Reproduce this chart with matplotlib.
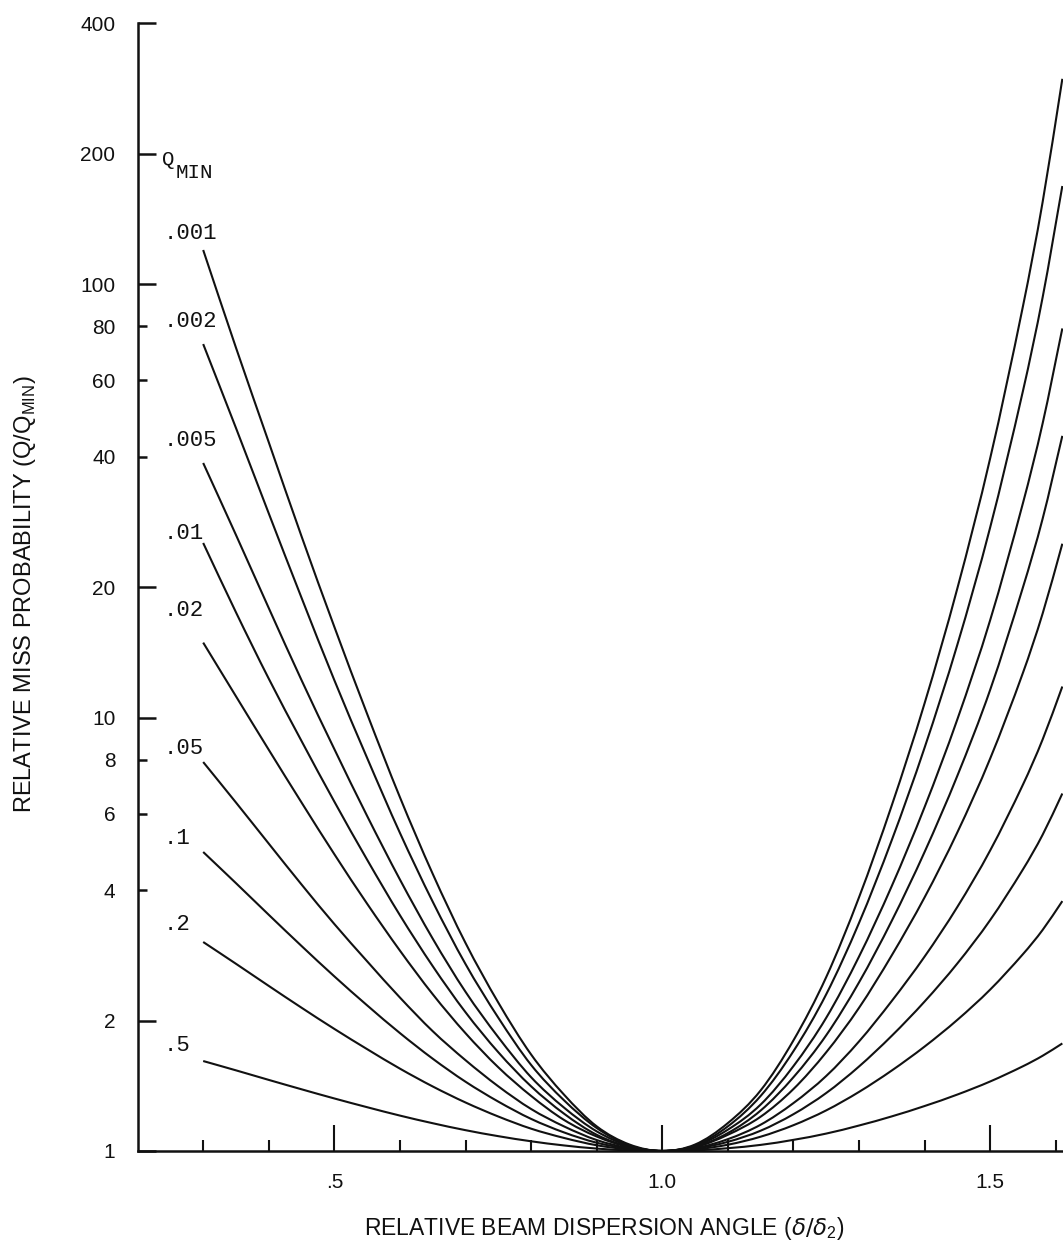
import matplotlib
matplotlib.use("Agg")
import numpy as np
import matplotlib.pyplot as plt
from matplotlib.path import Path
from matplotlib.patches import PathPatch
from matplotlib.ticker import FixedLocator, FixedFormatter, NullFormatter

# ---------------- data ----------------
delta = [0.30, 0.35, 0.40, 0.45, 0.50, 0.55, 0.60, 0.65, 0.70, 0.75,
         0.80, 0.85, 0.90, 0.95, 1.00, 1.05, 1.10, 1.15, 1.20, 1.25,
         1.30, 1.35, 1.40, 1.45, 1.50, 1.55, 1.58, 1.61]

q_001 = [120, 71.4, 43.2, 26.2, 16.2, 10.2, 6.55, 4.36, 3.02, 2.20, 1.67, 1.35, 1.14, 1.035,
         1.0, 1.035, 1.16, 1.38, 1.80, 2.52, 3.85, 6.28, 10.8, 19.9, 39.7, 89.1, 155, 298]
q_002 = [72.8, 46.6, 29.6, 18.9, 12.2, 8.07, 5.42, 3.76, 2.70, 2.03, 1.58, 1.31, 1.13, 1.03,
         1.0, 1.03, 1.14, 1.34, 1.70, 2.30, 3.36, 5.22, 8.53, 14.75, 27.5, 56.8, 93.4, 168.6]
q_005 = [38.7, 26.4, 17.9, 12.2, 8.46, 5.93, 4.23, 3.09, 2.33, 1.83, 1.48, 1.26, 1.11, 1.027,
         1.0, 1.027, 1.12, 1.28, 1.57, 2.03, 2.81, 4.09, 6.22, 9.92, 16.8, 31.3, 47.8, 79.1]
q_01 = [25.3, 17.5, 12.3, 8.83, 6.40, 4.70, 3.50, 2.67, 2.09, 1.69, 1.41, 1.22, 1.09, 1.023,
        1.0, 1.023, 1.10, 1.24, 1.48, 1.85, 2.45, 3.40, 4.90, 7.35, 11.6, 20.0, 28.8, 44.7]
q_02 = [14.9, 11.2, 8.43, 6.37, 4.84, 3.72, 2.90, 2.30, 1.87, 1.56, 1.34, 1.18, 1.08, 1.02,
        1.0, 1.02, 1.09, 1.20, 1.39, 1.69, 2.14, 2.83, 3.85, 5.44, 8.05, 12.7, 17.4, 25.2]
q_05 = [7.9, 6.37, 5.12, 4.12, 3.34, 2.74, 2.26, 1.89, 1.62, 1.41, 1.25, 1.14, 1.06, 1.015,
        1.0, 1.015, 1.065, 1.15, 1.29, 1.49, 1.79, 2.22, 2.81, 3.66, 4.94, 7.01, 8.91, 11.8]
q_1 = [4.898, 4.150, 3.508, 2.972, 2.529, 2.168, 1.871, 1.633, 1.445, 1.300, 1.186, 1.104,
       1.045, 1.012, 1.0, 1.012, 1.050, 1.114, 1.216, 1.361, 1.567, 1.845, 2.213, 2.710,
       3.412, 4.467, 5.370, 6.683]
q_2 = [3.036, 2.704, 2.404, 2.141, 1.913, 1.718, 1.549, 1.409, 1.294, 1.201, 1.126, 1.072,
       1.031, 1.008, 1.0, 1.008, 1.034, 1.079, 1.147, 1.241, 1.369, 1.534, 1.742, 2.008,
       2.358, 2.847, 3.238, 3.773]
q_5 = [1.613, 1.535, 1.459, 1.388, 1.322, 1.262, 1.207, 1.159, 1.117, 1.082, 1.053, 1.030,
       1.013, 1.003, 1.0, 1.003, 1.015, 1.033, 1.061, 1.097, 1.145, 1.202, 1.270, 1.350,
       1.447, 1.569, 1.659, 1.771]

curves = [q_001, q_002, q_005, q_01, q_02, q_05, q_1, q_2, q_5]
curve_labels = [".001", ".002", ".005", ".01", ".02", ".05", ".1", ".2", ".5"]

y_major = [1, 2, 10, 20, 100, 200, 400]
y_minor = [4, 6, 8, 40, 60, 80]
x_major = [0.5, 1.0, 1.5]
x_major_labels = [".5", "1.0", "1.5"]
x_minor = [0.3, 0.4, 0.6, 0.7, 0.8, 0.9, 1.1, 1.2, 1.3, 1.4, 1.6]

# label anchor heights (text placement)
label_y = [131, 82, 43.5, 26.6, 17.7, 8.5, 5.26, 3.34, 1.75]


def smooth_path(xs, ys):
    """Cubic Hermite Bezier path through the points, built in x / log-y space."""
    px = np.asarray(xs, float)
    py = np.log10(np.asarray(ys, float))
    n = len(px)
    m = np.empty(n)
    m[0] = (py[1] - py[0]) / (px[1] - px[0])
    m[-1] = (py[-1] - py[-2]) / (px[-1] - px[-2])
    for i in range(1, n - 1):
        m[i] = (py[i + 1] - py[i - 1]) / (px[i + 1] - px[i - 1])
    verts = [(px[0], 10 ** py[0])]
    codes = [Path.MOVETO]
    for i in range(n - 1):
        h = px[i + 1] - px[i]
        c1 = (px[i] + h / 3, 10 ** (py[i] + m[i] * h / 3))
        c2 = (px[i + 1] - h / 3, 10 ** (py[i + 1] - m[i + 1] * h / 3))
        verts += [c1, c2, (px[i + 1], 10 ** py[i + 1])]
        codes += [Path.CURVE4] * 3
    return Path(verts, codes)


# ---------------- figure ----------------
W, H, DPI = 1063, 1248, 100
fig = plt.figure(figsize=(W / DPI, H / DPI), dpi=DPI)
fig.patch.set_facecolor("white")
ax = fig.add_axes([137.6 / W, 97 / H, 1 - 137.6 / W, 1 - 97 / H])
ax.set_facecolor("white")

ink = "#111111"
ax.set_yscale("log")
ax.set_xlim(0.2, 1.611)
ax.set_ylim(1, 453)

for vals in curves:
    patch = PathPatch(smooth_path(delta, vals), facecolor="none", edgecolor=ink,
                      lw=1.5, capstyle="butt", transform=ax.transData)
    ax.add_patch(patch)

for s in ["top", "right"]:
    ax.spines[s].set_visible(False)
for s in ["left", "bottom"]:
    ax.spines[s].set_linewidth(1.8)
    ax.spines[s].set_color(ink)
ax.spines["left"].set_bounds(1, 400)

tickfont = "Liberation Sans"
ax.yaxis.set_major_locator(FixedLocator(y_major))
ax.yaxis.set_major_formatter(FixedFormatter([str(v) for v in y_major]))
ax.yaxis.set_minor_locator(FixedLocator(y_minor))
ax.yaxis.set_minor_formatter(FixedFormatter([str(v) for v in y_minor]))
ax.tick_params(axis="y", which="major", direction="in", length=13, width=1.8,
               pad=16, labelsize=15, colors=ink)
ax.tick_params(axis="y", which="minor", direction="in", length=6.5, width=1.8,
               pad=16, labelsize=15, colors=ink)

ax.xaxis.set_major_locator(FixedLocator(x_major))
ax.xaxis.set_major_formatter(FixedFormatter(x_major_labels))
ax.xaxis.set_minor_locator(FixedLocator(x_minor))
ax.xaxis.set_minor_formatter(NullFormatter())
ax.tick_params(axis="x", which="major", direction="in", length=19, width=1.5,
               pad=16, labelsize=15, colors=ink)
ax.tick_params(axis="x", which="minor", direction="in", length=8, width=1.5, colors=ink)

for lab in ax.get_yticklabels(which="both") + ax.get_xticklabels():
    lab.set_fontfamily(tickfont)

# curve labels (typewriter style)
mono = "Liberation Mono"
for txt, yv in zip(curve_labels, label_y):
    ax.text(0.240, yv, txt, family=mono, fontsize=16, color=ink,
            ha="left", va="center", clip_on=False)
ax.text(0.237, 194, "Q", family=mono, fontsize=15, color=ink, ha="left", va="center")
ax.text(0.258, 181, "MIN", family=mono, fontsize=15, color=ink, ha="left", va="center")

# axis titles
fig.text(604 / W, 1 - 1228 / H, r"RELATIVE BEAM DISPERSION ANGLE ($\delta/\delta_{\mathregular{2}}$)",
         family="Liberation Sans", fontsize=16.5, color=ink, ha="center", va="center")
fig.text(25 / W, 1 - 594 / H, r"RELATIVE MISS PROBABILITY (Q/Q$_{\mathregular{MIN}}$)",
         family="Liberation Sans", fontsize=17, color=ink, ha="center", va="center",
         rotation=90)

fig.savefig("out.png", dpi=DPI, facecolor="white")
